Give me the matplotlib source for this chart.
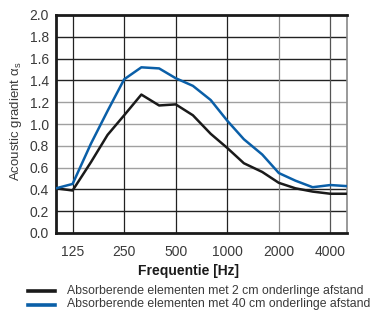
import matplotlib
matplotlib.use("Agg")
import matplotlib.pyplot as plt
from matplotlib.lines import Line2D

freqs = [100, 125, 160, 200, 250, 315, 400, 500, 630, 800, 1000, 1250, 1600, 2000, 2500, 3150, 4000, 5000]
black_vals = [0.41, 0.39, 0.65, 0.90, 1.08, 1.27, 1.17, 1.18, 1.08, 0.91, 0.78, 0.64, 0.56, 0.46, 0.41, 0.38, 0.36, 0.36]
blue_vals = [0.41, 0.45, 0.82, 1.12, 1.41, 1.52, 1.51, 1.42, 1.35, 1.22, 1.03, 0.86, 0.72, 0.55, 0.48, 0.42, 0.44, 0.43]
xticks = [125, 250, 500, 1000, 2000, 4000]
xtick_labels = ["125", "250", "500", "1000", "2000", "4000"]
yticks = [0.0, 0.2, 0.4, 0.6, 0.8, 1.0, 1.2, 1.4, 1.6, 1.8, 2.0]
labels = ["Absorberende elementen met 2 cm onderlinge afstand",
          "Absorberende elementen met 40 cm onderlinge afstand"]
colors = ['#1a1a1a', '#0a5fa8']

plt.rcParams['font.family'] = ['Liberation Sans', 'DejaVu Sans']

fig = plt.figure(figsize=(3.8, 3.13), dpi=100)
ax = fig.add_axes([56/380, 80/313, 291/380, 218/313])
ax.set_xscale('log')
ax.set_xlim(100, 5000)
ax.set_ylim(0, 2.0)

# grid
for y in yticks[1:-1]:
    c = '#a0a0a0' if y in (0.6, 0.8, 1.0, 1.2) else '#222222'
    ax.axhline(y, color=c, lw=1.0, zorder=1)
for x in xticks:
    c = '#8a8a8a' if x == 2000 else ('#555555' if x == 4000 else '#222222')
    ax.axvline(x, color=c, lw=0.9, zorder=1)

ax.plot(freqs, black_vals, color=colors[0], lw=1.8, zorder=3)
ax.plot(freqs, blue_vals, color=colors[1], lw=1.8, zorder=3)

ax.set_xticks(xticks)
ax.set_xticklabels(xtick_labels)
ax.xaxis.set_minor_locator(matplotlib.ticker.NullLocator())
ax.set_yticks(yticks)
ax.set_yticklabels([f"{v:.1f}" for v in yticks])
ax.tick_params(axis='both', length=0, labelsize=10, colors='#3a3a3a', pad=5)
ax.tick_params(axis='x', pad=9)

for s in ('left', 'bottom', 'top'):
    ax.spines[s].set_linewidth(2.0)
    ax.spines[s].set_color('#1a1a1a')
ax.spines['right'].set_linewidth(1.2)
ax.spines['right'].set_color('#888888')

ax.set_xlabel("Frequentie [Hz]", fontsize=10, fontweight='bold', color='#1a1a1a')
ax.xaxis.set_label_coords((188 - 56) / 291, -(271 - 233) / 218)
ax.xaxis.label.set_va('center')
ax.set_ylabel("Acoustic gradient α$_\\mathregular{s}$", fontsize=9.5, color='#3a3a3a')
ax.yaxis.set_label_coords(-(56 - 16) / 291, (233 - 121) / 218)
ax.yaxis.label.set_va('center')

# legend
for i, (lab, col) in enumerate(zip(labels, colors)):
    yy = 1 - (291 + 13.5 * i) / 313
    fig.add_artist(Line2D([28/380, 55/380], [yy, yy], transform=fig.transFigure,
                          color=col, lw=2.6))
    fig.text(67/380, yy, lab, fontsize=8.85, color='#3a3a3a', va='center', ha='left')

fig.savefig("out.png", dpi=100)
